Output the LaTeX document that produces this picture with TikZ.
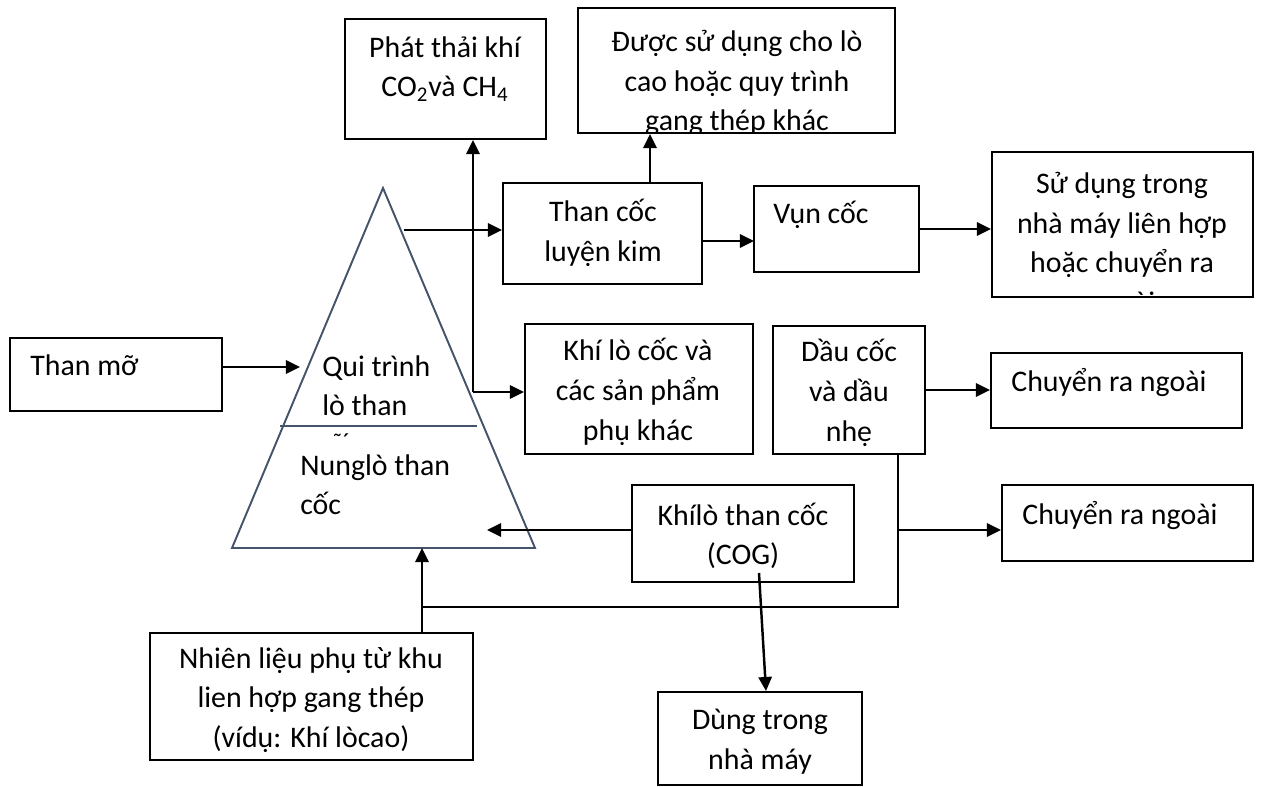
\documentclass[tikz,border=0pt]{standalone}
\usepackage{fontspec}
\setmainfont{Carlito}
\usetikzlibrary{arrows.meta,fit}
\definecolor{slate}{RGB}{68,84,106}
\newcommand*{\diagfont}{\fontsize{17}{22.6}\selectfont}

\begin{document}
\begin{tikzpicture}[x=0.02cm,y=-0.02cm,
  box/.style={rectangle,draw=black,line width=1.1pt,inner sep=0pt},
  txt/.style={font=\diagfont,inner sep=0pt,align=center},
  arr/.style={line width=1.4pt,-{Triangle[length=8pt,width=7.5pt]}},
  link/.style={line width=1.4pt},
  tri/.style={draw=slate,line width=1.1pt}]
	\useasboundingbox (0,0) rectangle (1262,787);
	% boxes
	\node[box,fit={(10,338) (222,411)}] (thanmo) {};
	\node[box,fit={(345,19) (546,139)}] (phat) {};
	\node[box,fit={(578,8) (895,133)}] (duoc) {};
	\node[box,fit={(503,183) (702,284)}] (cokim) {};
	\node[box,fit={(754,186) (919,272)}] (vun) {};
	\node[box,fit={(992,152) (1253,297)}] (sudung) {};
	\node[box,fit={(525,324) (753,454)}] (khilo) {};
	\node[box,fit={(773,326) (925,454)}] (dau) {};
	\node[box,fit={(991,353) (1242,428)}] (ngoai1) {};
	\node[box,fit={(1002,485) (1253,561)}] (ngoai2) {};
	\node[box,fit={(632,485) (854,582)}] (cog) {};
	\node[box,fit={(150,633) (473,760)}] (phu) {};
	\node[box,fit={(658,692) (862,785)}] (dung) {};
	% texts
	\node[txt,anchor=base west] (thanmoT) at (30,376) {Than mỡ};
	\node[txt] (phatT) at (445,69) {Phát thải khí\\CO\textsubscript{2}và CH\textsubscript{4}};
	\begin{scope}
	  \clip (duoc.north west) rectangle (duoc.south east);
	  \node[txt] (duocT) at (737,83) {Được sử dụng cho lò\\cao hoặc quy trình\\gang thép khác};
	\end{scope}
	\node[txt] (cokimT) at (603,233) {Than cốc\\luyện kim};
	\node[txt,anchor=base west] (vunT) at (773,224) {Vụn cốc};
	\begin{scope}
	  \clip (992,152) rectangle (1253,295);
	  \node[txt] (sudungT) at (1122,245) {Sử dụng trong\\nhà máy liên hợp\\hoặc chuyển ra\\ngoài};
	\end{scope}
	\node[txt] (khiloT) at (638,392) {Khí lò cốc và\\các sản phẩm\\phụ khác};
	\node[txt] (dauT) at (849,393) {Dầu cốc\\và dầu\\nhẹ};
	\node[txt,anchor=base west] (ngoai1T) at (1011,392) {Chuyển ra ngoài};
	\node[txt,anchor=base west] (ngoai2T) at (1022,524) {Chuyển ra ngoài};
	\node[txt] (cogT) at (743,536) {Khílò than cốc\\(COG)};
	\node[txt] (phuT) at (311,700) {Nhiên liệu phụ từ khu\\lien hợp gang thép\\(vídụ: Khí lòcao)};
	\node[txt] (dungT) at (760,742) {Dùng trong\\nhà máy};
	% coke oven triangle
	\draw[tri] (383,188) coordinate (apex) -- (535,548) coordinate (br) -- (232,548) coordinate (bl) -- cycle;
	\draw[tri] (280,426) -- (477,426);
	\node[txt,anchor=base west] (quiT) at (322,377) {Qui trình};
	\node[txt,anchor=base west] (loT) at (322,416) {lò than};
	\node[txt,font=\fontsize{14}{16}\selectfont,anchor=north] (markT) at (341,433) {\char"02DC\char"00B4};
	\node[txt,anchor=base west] (nungT) at (300,476) {Nunglò than};
	\node[txt,anchor=base west] (cocT) at (300,514) {cốc};
	% connectors
	\coordinate (inlet) at (300,367);
	\coordinate (split) at (473,392);
	\coordinate (cokeout) at (404,230);
	\coordinate (riser) at (650,183);
	\coordinate (vunin) at (754,241);
	\coordinate (drain) at (898,454);
	\coordinate (feed) at (422,607);
	\coordinate (tap) at (898,530);
	\coordinate (fuel) at (422,548);
	\coordinate (cogin) at (487,530);
	\coordinate (cogout) at (759,573);
	\coordinate (dungin) at (766,692);
	\draw[arr] (thanmo.east |- inlet) -- (inlet);
	\draw[arr] (cokeout) -- (cokeout -| cokim.west);
	\draw[arr] (split) -- (split |- phat.south);
	\draw[arr] (split) -- (split -| khilo.west);
	\draw[arr] (riser) -- (riser |- duoc.south);
	\draw[arr] (vunin -| cokim.east) -- (vunin);
	\draw[arr] (vun.east) -- (vun.east -| sudung.west);
	\draw[arr] (dau.east) -- (dau.east -| ngoai1.west);
	\draw[link] (drain) |- (feed);
	\draw[arr] (tap) -- (tap -| ngoai2.west);
	\draw[arr] (fuel |- phu.north) -- (fuel);
	\draw[arr] (cogin -| cog.west) -- (cogin);
	\draw[arr] (cogout) -- (dungin |- dung.north);
\end{tikzpicture}
\end{document}
